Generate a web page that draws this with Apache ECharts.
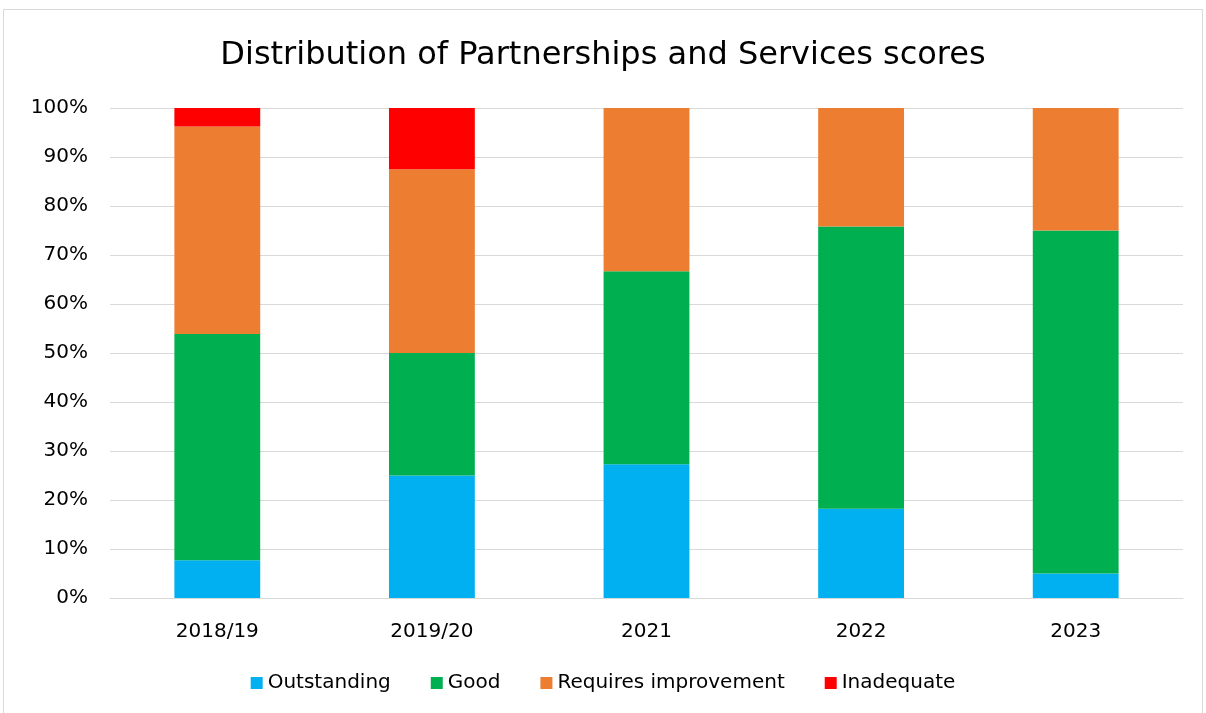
<!DOCTYPE html>
<html>
<head>
<meta charset="utf-8">
<script src="https://cdn.jsdelivr.net/npm/echarts@6/dist/echarts.min.js"></script>
<style>
  html, body { margin: 0; padding: 0; background: #fff; }
  #chart { width: 1206px; height: 713px; }
</style>
</head>
<body>
<div id="chart"></div>
<script>
var categories = ["2018/19", "2019/20", "2021", "2022", "2023"];
var outstanding = [7.7, 25, 27.3, 18.2, 5];
var good = [46.2, 25, 39.4, 57.6, 70];
var requiresImprovement = [42.3, 37.5, 33.3, 24.2, 25];
var inadequate = [3.8, 12.5, 0, 0, 0];
var seriesNames = ["Outstanding", "Good", "Requires improvement", "Inadequate"];
var colours = ["#00b0f0", "#00b050", "#ed7d31", "#ff0000"];

var font = "DejaVu Sans, sans-serif";
var chart = echarts.init(document.getElementById("chart"));

function bar(name, data, c) {
    return {
        name: name,
        type: "bar",
        stack: "total",
        data: data,
        barWidth: "40%",
        itemStyle: { color: c },
        emphasis: { disabled: true }
    };
}

var option = {
    animation: false,
    backgroundColor: "#fff",
    textStyle: { fontFamily: font },
    title: {
        text: "Distribution of Partnerships and Services scores",
        left: "center",
        top: 35,
        textStyle: { fontFamily: font, fontSize: 32, fontWeight: "normal", color: "#000" }
    },
    graphic: [{
        type: "rect",
        shape: { x: 3.5, y: 9.5, width: 1199, height: 710 },
        style: { fill: "none", stroke: "#d9d9d9", lineWidth: 1 },
        silent: true
    }],
    legend: {
        bottom: 15,
        left: "center",
        itemWidth: 12,
        itemHeight: 12,
        itemGap: 40,
        icon: "rect",
        data: seriesNames,
        textStyle: { fontFamily: font, fontSize: 20, color: "#000", padding: [0, 0, 0, 0] }
    },
    grid: { left: 110, right: 23, top: 108, bottom: 115, containLabel: false },
    xAxis: {
        type: "category",
        data: categories,
        axisLine: { show: true, lineStyle: { color: "#d9d9d9", width: 1 } },
        axisTick: { show: false },
        axisLabel: { fontSize: 20, color: "#000", margin: 24, fontFamily: font }
    },
    yAxis: {
        type: "value",
        min: 0,
        max: 100,
        interval: 10,
        axisLine: { show: false },
        axisTick: { show: false },
        splitLine: { lineStyle: { color: "#d9d9d9", width: 1 } },
        axisLabel: { fontSize: 20, color: "#000", margin: 22, fontFamily: font, formatter: "{value}%" }
    },
    series: [
        bar(seriesNames[0], outstanding, colours[0]),
        bar(seriesNames[1], good, colours[1]),
        bar(seriesNames[2], requiresImprovement, colours[2]),
        bar(seriesNames[3], inadequate, colours[3])
    ]
};
chart.setOption(option);
</script>
</body>
</html>
